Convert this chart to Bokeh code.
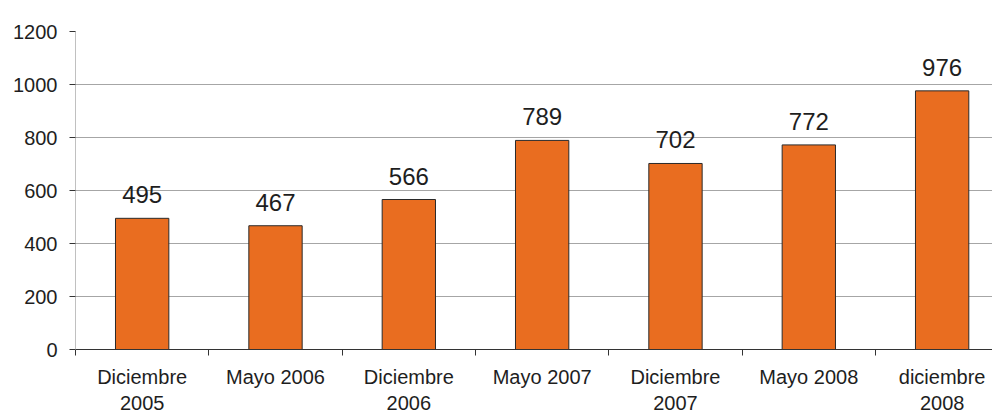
from bokeh.plotting import figure
from bokeh.models import FixedTicker, Range1d, ColumnDataSource
from bokeh.embed import file_html
from bokeh.resources import INLINE
from bokeh.core.properties import value

categories = ["Diciembre\n2005", "Mayo 2006", "Diciembre\n2006", "Mayo 2007",
              "Diciembre\n2007", "Mayo 2008", "diciembre\n2008"]
values = [495, 467, 566, 789, 702, 772, 976]
y_ticks = [0, 200, 400, 600, 800, 1000, 1200]

FONT = "Liberation Sans"
TEXT = "#1e1e1e"

n = len(categories)
centers = [i + 0.5 for i in range(n)]
bounds = list(range(n))

src = ColumnDataSource(dict(x=centers, top=values, label=[str(v) for v in values]))

p = figure(width=992, height=416, output_backend="svg", toolbar_location=None,
           x_range=Range1d(0, 917 / 133.33), y_range=Range1d(0, 1200),
           min_border_left=75, min_border_right=0, min_border_top=31, min_border_bottom=66)
p.outline_line_color = None
p.background_fill_color = "white"
p.border_fill_color = "white"

p.vbar(x="x", top="top", width=0.4, source=src, fill_color="#E96D20",
       line_color="#2a2a2a", line_width=1)
p.text(x="x", y="top", text="label", source=src, text_align="center",
       text_baseline="bottom", y_offset=-15, text_font=value(FONT),
       text_font_size="24px", text_color=TEXT)

# y axis
p.yaxis.ticker = FixedTicker(ticks=y_ticks)
p.yaxis.axis_line_color = "#c0c0c0"
p.yaxis.major_tick_line_color = "#333333"
p.yaxis.major_tick_out = 6
p.yaxis.major_tick_in = 0
p.yaxis.minor_tick_line_color = None
p.yaxis.major_label_text_font = FONT
p.yaxis.major_label_text_font_size = "20px"
p.yaxis.major_label_text_color = TEXT
p.yaxis.major_label_standoff = 12

# x axis
p.xaxis.ticker = FixedTicker(ticks=centers, minor_ticks=bounds)
p.xaxis.major_label_overrides = {c: lab for c, lab in zip(centers, categories)}
p.xaxis.axis_line_color = "#333333"
p.xaxis.major_tick_line_color = None
p.xaxis.major_tick_out = 6
p.xaxis.minor_tick_line_color = "#333333"
p.xaxis.minor_tick_out = 6
p.xaxis.minor_tick_in = 0
p.xaxis.major_label_text_font = FONT
p.xaxis.major_label_text_font_size = "20px"
p.xaxis.major_label_text_color = TEXT
p.xaxis.major_label_standoff = 10

p.xgrid.grid_line_color = None
p.ygrid.ticker = FixedTicker(ticks=y_ticks)
p.ygrid.grid_line_color = "#a6a6a6"
p.ygrid.grid_line_width = 1

open("out.html", "w").write(file_html(p, INLINE))
